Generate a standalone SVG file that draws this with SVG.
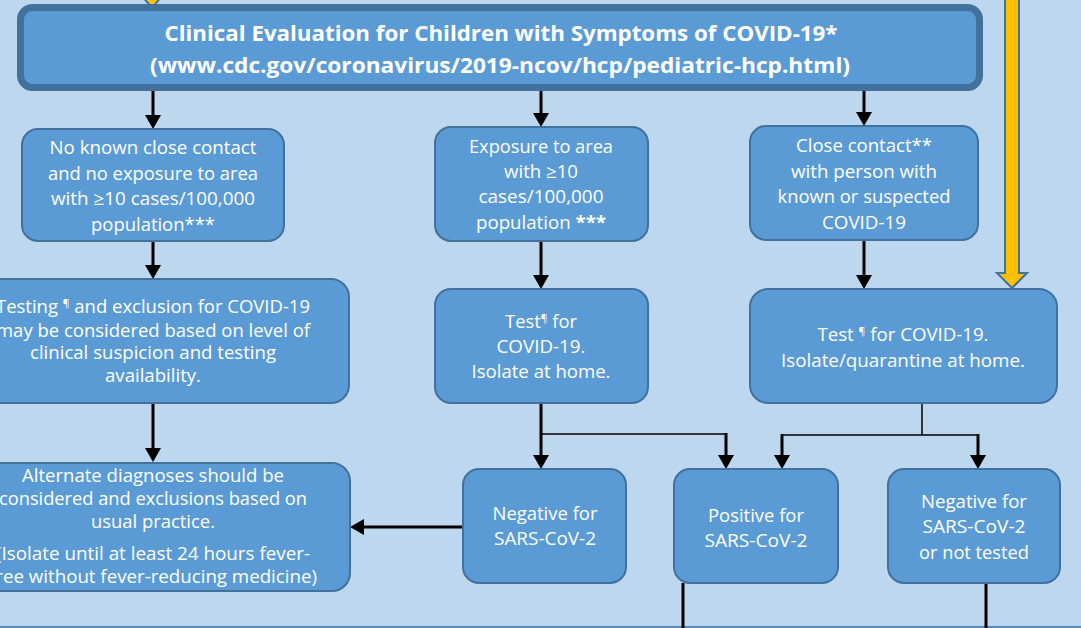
<svg xmlns="http://www.w3.org/2000/svg" width="1081" height="628" viewBox="0 0 1081 628">
<style>
.box{fill:#5B9BD5;stroke:#41719C;stroke-width:2}
.t{fill:#fff;font-family:"Open Sans","Liberation Sans",sans-serif;font-size:18px;text-anchor:middle}
.title{fill:#fff;font-family:"Open Sans","Liberation Sans",sans-serif;font-size:21px;font-weight:bold;text-anchor:middle}
.sup{font-size:10px}
.c{fill:none;stroke:#000;stroke-width:3}
.thin{fill:none;stroke:#000;stroke-width:1.5}
.yel{fill:#FFC000;stroke:#41719C;stroke-width:2}
</style>
<defs>
<marker id="ah" viewBox="0 0 14 16" markerWidth="14" markerHeight="16" refX="1" refY="8" orient="auto" markerUnits="userSpaceOnUse">
<path d="M0,0 L14,8 L0,16 Z" fill="#000"/>
</marker>
</defs>
<rect x="0" y="0" width="1081" height="628" fill="#BDD7EE"/>
<line x1="0" y1="627" x2="1081" y2="627" stroke="#5A88B8" stroke-width="2"/>

<g id="yellow-arrows">
<polygon class="yel" points="142,-4 162,-4 152,8"/>
<polygon class="yel" points="1005,-5 1019,-5 1019,273 1027,273 1012,288 997,273 1005,273"/>
</g>

<g id="title">
<rect x="20.5" y="7.5" width="959" height="80" rx="12" fill="#5B9BD5" stroke="#41719C" stroke-width="7"/>
<text class="title" x="501" y="41" textLength="673" lengthAdjust="spacingAndGlyphs">Clinical Evaluation for Children with Symptoms of COVID-19*</text>
<text class="title" x="500" y="73" textLength="700" lengthAdjust="spacingAndGlyphs">(www.cdc.gov/coronavirus/2019-ncov/hcp/pediatric-hcp.html)</text>
</g>

<g id="connectors">
<line class="c" x1="153" y1="91" x2="153" y2="116" marker-end="url(#ah)"/>
<line class="c" x1="541" y1="91" x2="541" y2="114" marker-end="url(#ah)"/>
<line class="c" x1="864" y1="91" x2="864" y2="113" marker-end="url(#ah)"/>
<line class="c" x1="153" y1="241" x2="153" y2="266" marker-end="url(#ah)"/>
<line class="c" x1="541" y1="241" x2="541" y2="276" marker-end="url(#ah)"/>
<line class="c" x1="864" y1="240" x2="864" y2="276" marker-end="url(#ah)"/>
<line class="c" x1="153" y1="403" x2="153" y2="449" marker-end="url(#ah)"/>
<line class="c" x1="541" y1="403" x2="541" y2="456" marker-end="url(#ah)"/>
<polyline class="thin" points="541,434 726,434"/>
<line class="c" x1="726" y1="433" x2="726" y2="456" marker-end="url(#ah)"/>
<line class="thin" x1="922" y1="403" x2="922" y2="435"/>
<line class="thin" x1="782" y1="435" x2="978" y2="435"/>
<line class="c" x1="782" y1="434" x2="782" y2="456" marker-end="url(#ah)"/>
<line class="c" x1="978" y1="434" x2="978" y2="456" marker-end="url(#ah)"/>
<line class="c" x1="463" y1="527" x2="363" y2="527" marker-end="url(#ah)"/>
<line class="c" x1="683" y1="583" x2="683" y2="628"/>
<line class="c" x1="986" y1="583" x2="986" y2="628"/>
</g>

<g id="no-contact">
<rect class="box" x="22" y="129" width="262" height="112" rx="16"/>
<text class="t" x="153" y="154" textLength="207" lengthAdjust="spacingAndGlyphs">No known close contact</text>
<text class="t" x="153" y="180" textLength="210" lengthAdjust="spacingAndGlyphs">and no exposure to area</text>
<text class="t" x="153" y="205" textLength="204" lengthAdjust="spacingAndGlyphs">with ≥10 cases/100,000</text>
<text class="t" x="153" y="231" textLength="124" lengthAdjust="spacingAndGlyphs">population***</text>
</g>

<g id="testing-considered">
<rect class="box" x="-43" y="279" width="392" height="124" rx="18"/>
<text class="t" x="153" y="313" textLength="314" lengthAdjust="spacingAndGlyphs">Testing <tspan class="sup" dy="-6">¶</tspan><tspan dy="6"> and exclusion for COVID-19</tspan></text>
<text class="t" x="153" y="337" textLength="314" lengthAdjust="spacingAndGlyphs">may be considered based on level of</text>
<text class="t" x="153" y="359" textLength="246" lengthAdjust="spacingAndGlyphs">clinical suspicion and testing</text>
<text class="t" x="153" y="382" textLength="96" lengthAdjust="spacingAndGlyphs">availability.</text>
</g>

<g id="exposure">
<rect class="box" x="435" y="127" width="213" height="114" rx="16"/>
<text class="t" x="541" y="153" textLength="144" lengthAdjust="spacingAndGlyphs">Exposure to area</text>
<text class="t" x="541" y="178" textLength="74" lengthAdjust="spacingAndGlyphs">with ≥10</text>
<text class="t" x="541" y="203" textLength="125" lengthAdjust="spacingAndGlyphs">cases/100,000</text>
<text class="t" x="541" y="229" textLength="130" lengthAdjust="spacingAndGlyphs">population <tspan font-weight="bold">***</tspan></text>
</g>

<g id="test-isolate">
<rect class="box" x="435" y="289" width="213" height="114" rx="16"/>
<text class="t" x="541" y="328" textLength="72" lengthAdjust="spacingAndGlyphs">Test<tspan class="sup" dy="-6">¶</tspan><tspan dy="6"> for</tspan></text>
<text class="t" x="541" y="353" textLength="89" lengthAdjust="spacingAndGlyphs">COVID-19.</text>
<text class="t" x="541" y="378" textLength="139" lengthAdjust="spacingAndGlyphs">Isolate at home.</text>
</g>

<g id="close-contact">
<rect class="box" x="750" y="126" width="228" height="114" rx="16"/>
<text class="t" x="864" y="152" textLength="136" lengthAdjust="spacingAndGlyphs">Close contact**</text>
<text class="t" x="864" y="178" textLength="146" lengthAdjust="spacingAndGlyphs">with person with</text>
<text class="t" x="864" y="203" textLength="173" lengthAdjust="spacingAndGlyphs">known or suspected</text>
<text class="t" x="864" y="229" textLength="84" lengthAdjust="spacingAndGlyphs">COVID-19</text>
</g>

<g id="test-quarantine">
<rect class="box" x="750" y="289" width="307" height="114" rx="18"/>
<text class="t" x="903" y="341" textLength="171" lengthAdjust="spacingAndGlyphs">Test <tspan class="sup" dy="-6">¶</tspan><tspan dy="6"> for COVID-19.</tspan></text>
<text class="t" x="903" y="367" textLength="244" lengthAdjust="spacingAndGlyphs">Isolate/quarantine at home.</text>
</g>

<g id="alternate">
<rect class="box" x="-43" y="463" width="393" height="128" rx="18"/>
<text class="t" x="153" y="482" textLength="262" lengthAdjust="spacingAndGlyphs">Alternate diagnoses should be</text>
<text class="t" x="153" y="505" textLength="308" lengthAdjust="spacingAndGlyphs">considered and exclusions based on</text>
<text class="t" x="153" y="528" textLength="124" lengthAdjust="spacingAndGlyphs">usual practice.</text>
<text class="t" x="153" y="560" textLength="314" lengthAdjust="spacingAndGlyphs">(Isolate until at least 24 hours fever-</text>
<text class="t" x="153" y="583" textLength="328" lengthAdjust="spacingAndGlyphs">free without fever-reducing medicine)</text>
</g>

<g id="negative">
<rect class="box" x="463" y="469" width="163" height="114" rx="16"/>
<text class="t" x="545" y="520" textLength="105" lengthAdjust="spacingAndGlyphs">Negative for</text>
<text class="t" x="545" y="545" textLength="102" lengthAdjust="spacingAndGlyphs">SARS-CoV-2</text>
</g>

<g id="positive">
<rect class="box" x="674" y="469" width="164" height="114" rx="16"/>
<text class="t" x="756" y="522" textLength="96" lengthAdjust="spacingAndGlyphs">Positive for</text>
<text class="t" x="756" y="547" textLength="103" lengthAdjust="spacingAndGlyphs">SARS-CoV-2</text>
</g>

<g id="negative-not-tested">
<rect class="box" x="888" y="469" width="172" height="114" rx="16"/>
<text class="t" x="974" y="508" textLength="106" lengthAdjust="spacingAndGlyphs">Negative for</text>
<text class="t" x="974" y="533" textLength="103" lengthAdjust="spacingAndGlyphs">SARS-CoV-2</text>
<text class="t" x="974" y="559" textLength="110" lengthAdjust="spacingAndGlyphs">or not tested</text>
</g>
</svg>
